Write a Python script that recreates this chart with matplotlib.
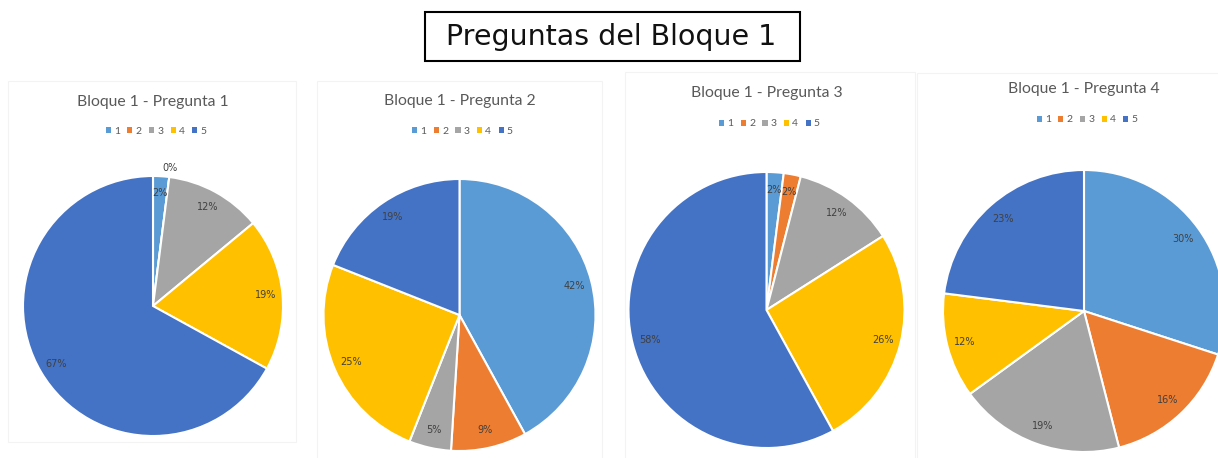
import numpy as np
import matplotlib.pyplot as plt
from matplotlib.patches import Rectangle, Patch

# Datos (porcentajes por respuesta 1-5)
categorias = ['1', '2', '3', '4', '5']
pregunta_1 = [2, 0, 12, 19, 67]
pregunta_2 = [42, 9, 5, 25, 19]
pregunta_3 = [2, 2, 12, 26, 58]
pregunta_4 = [30, 16, 19, 12, 23]
titulos = ['Bloque 1 - Pregunta 1', 'Bloque 1 - Pregunta 2',
           'Bloque 1 - Pregunta 3', 'Bloque 1 - Pregunta 4']
titulo_general = 'Preguntas del Bloque 1'

colores = ['#5B9BD5', '#ED7D31', '#A5A5A5', '#FFC000', '#4472C4']

W, H = 1218, 458

# posiciones en pixeles: centro, radio, y del titulo, y de la leyenda, marco
layout = [
    dict(c=(153, 306), r=130, ty=102, ly=131, panel=(8, 81, 296, 442)),
    dict(c=(459.5, 315), r=136, ty=101, ly=131, panel=(317, 81, 602, 470)),
    dict(c=(766.5, 310), r=138, ty=93, ly=124, panel=(625, 72, 915, 470)),
    dict(c=(1084, 311), r=141, ty=89, ly=120, panel=(917, 73, 1240, 470)),
]


def fx(x):
    return x / W


def fy(y):
    return 1 - y / H


fig = plt.figure(figsize=(W / 100, H / 100), dpi=100)
fig.patch.set_facecolor('white')

# titulo general en caja
fig.patches.append(Rectangle((fx(425), fy(61)), fx(800) - fx(425), fy(12) - fy(61),
                             transform=fig.transFigure, facecolor='white',
                             edgecolor='black', linewidth=1.5))
fig.text(fx(611), fy(37), titulo_general, ha='center', va='center',
         fontsize=20.5, family='DejaVu Sans', color='#111111')

datos = [pregunta_1, pregunta_2, pregunta_3, pregunta_4]

for valores, titulo, lay in zip(datos, titulos, layout):
    x0, y0, x1, y1 = lay['panel']
    fig.patches.append(Rectangle((fx(x0), fy(y1)), fx(x1) - fx(x0), fy(y0) - fy(y1),
                                 transform=fig.transFigure, facecolor='none',
                                 edgecolor='#f3f3f3', linewidth=0.8, zorder=0))
    cx, cy = lay['c']
    r = lay['r']
    ax = fig.add_axes([fx(cx - r), fy(cy + r), 2 * r / W, 2 * r / H])
    wedges, _ = ax.pie(valores, colors=colores, startangle=90, counterclock=False,
                       radius=1, wedgeprops=dict(edgecolor='white', linewidth=1.5))
    ax.set_xlim(-1, 1)
    ax.set_ylim(-1, 1)
    ax.axis('off')

    for w, v in zip(wedges, valores):
        ang = np.deg2rad((w.theta1 + w.theta2) / 2)
        d = 0.87 if v > 0 else 1.07
        ax.text(d * np.cos(ang), d * np.sin(ang), f'{v}%', ha='center', va='center',
                fontsize=7, color='#404040',
                family=['Liberation Sans Narrow', 'DejaVu Sans'], clip_on=False)

    fig.text(fx(cx), fy(lay['ty']), titulo, ha='center', va='center',
             fontsize=11.3, color='#595959', family=['Lato', 'DejaVu Sans'])

    handles = [Patch(facecolor=c, edgecolor='none') for c in colores]
    fig.legend(handles, categorias, loc='center', ncol=5,
               bbox_to_anchor=(fx(cx + 3), fy(lay['ly'])), frameon=False,
               labelcolor='#595959', handlelength=0.5, handleheight=0.5,
               handletextpad=0.3, columnspacing=0.7, borderpad=0,
               prop=dict(family=['Lato', 'DejaVu Sans'], size=7.5))

fig.savefig('out.png', dpi=100)
